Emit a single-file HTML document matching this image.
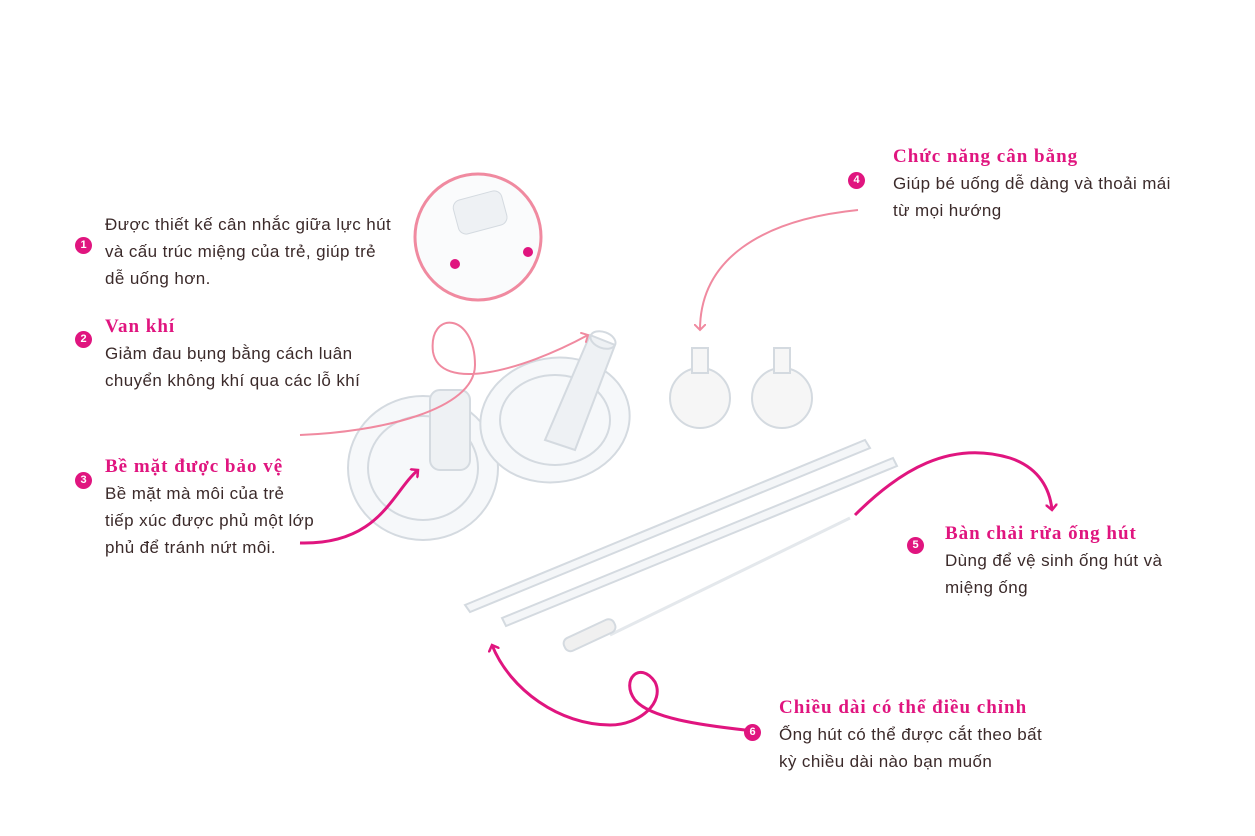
<!DOCTYPE html>
<html><head><meta charset="utf-8"><style>
body{margin:0;width:1255px;height:836px;background:#fff;overflow:hidden;position:relative;font-family:"Liberation Sans","DejaVu Sans",sans-serif;}
.t{position:absolute;color:#3b2a2a;font-size:17px;letter-spacing:0.4px;line-height:27px;white-space:nowrap;}
.h{color:#e0157f;font-weight:bold;font-size:19px;letter-spacing:1px;font-family:"Liberation Serif",serif;line-height:26px;}
.n{position:absolute;width:17px;height:17px;border-radius:50%;background:#e0157f;color:#fff;font-size:11px;font-weight:bold;text-align:center;line-height:17px;letter-spacing:0;}
svg{position:absolute;left:0;top:0;}
</style></head><body>
<svg width="1255" height="836">
<defs>
<marker id="ap" markerWidth="12" markerHeight="12" refX="6" refY="6" orient="auto" markerUnits="userSpaceOnUse"><path d="M0,0 L6,6 L0,12" fill="none" stroke="#f08aa0" stroke-width="2"/></marker>
<marker id="am" markerWidth="12" markerHeight="12" refX="6" refY="6" orient="auto" markerUnits="userSpaceOnUse"><path d="M0,0 L6,6 L0,12" fill="none" stroke="#e0157f" stroke-width="2.5"/></marker>
</defs>
<g fill="none" stroke="#d4dae0" stroke-width="2">
<ellipse cx="423" cy="468" rx="75" ry="72" fill="#f6f8fa"/>
<ellipse cx="423" cy="468" rx="55" ry="52"/>
<ellipse cx="555" cy="420" rx="75" ry="62" fill="#f6f8fa" transform="rotate(-10 555 420)"/>
<ellipse cx="555" cy="420" rx="55" ry="45"/>
<rect x="430" y="390" width="40" height="80" rx="10" fill="#eef1f4"/>
<path d="M545,440 L590,335 L615,345 L575,450 Z" fill="#eef1f4"/>
<ellipse cx="603" cy="340" rx="13" ry="8" transform="rotate(20 603 340)"/>
<path d="M465,605 L865,440 L870,448 L470,612 Z" fill="#f4f6f8"/>
<path d="M502,618 L893,458 L897,466 L506,626 Z" fill="#f4f6f8"/>
<path d="M610,635 L850,518" stroke="#e4e8ec" stroke-width="3"/>
<rect x="562" y="628" width="55" height="14" rx="6" fill="#f0f0f0" transform="rotate(-25 590 635)"/>
<circle cx="700" cy="398" r="30" fill="#f6f6f6"/><rect x="692" y="348" width="16" height="25" fill="#f6f6f6"/>
<circle cx="782" cy="398" r="30" fill="#f6f6f6"/><rect x="774" y="348" width="16" height="25" fill="#f6f6f6"/>
</g>
<circle cx="478" cy="237" r="63" fill="#fafbfc" stroke="#f08aa0" stroke-width="3"/>
<rect x="455" y="195" width="50" height="35" rx="8" fill="#eef1f4" stroke="#d4dae0" transform="rotate(-15 480 212)"/>
<circle cx="528" cy="252" r="5" fill="#e0157f"/><circle cx="455" cy="264" r="5" fill="#e0157f"/>
<path d="M300,435 C380,432 475,410 475,365 C475,312 428,310 433,352 C440,392 520,372 588,335" fill="none" stroke="#f08aa0" stroke-width="2" marker-end="url(#ap)"/>
<path d="M858,210 C760,220 700,260 700,330" fill="none" stroke="#f08aa0" stroke-width="2" marker-end="url(#ap)"/>
<path d="M300,543 C380,545 392,492 418,470" fill="none" stroke="#e0157f" stroke-width="3" marker-end="url(#am)"/>
<path d="M855,515 C900,470 950,440 1010,458 C1040,468 1050,490 1052,510" fill="none" stroke="#e0157f" stroke-width="3" marker-end="url(#am)"/>
<path d="M745,730 C700,725 650,718 635,700 C620,680 640,660 655,682 C665,702 640,725 610,725 C560,725 510,690 492,645" fill="none" stroke="#e0157f" stroke-width="3" marker-end="url(#am)"/>
</svg>
<div class="n" style="left:75px;top:237px">1</div>
<div class="t" style="left:105px;top:211px">Được thiết kế cân nhắc giữa lực hút<br>và cấu trúc miệng của trẻ, giúp trẻ<br>dễ uống hơn.</div>
<div class="n" style="left:75px;top:331px">2</div>
<div class="t" style="left:105px;top:313px"><span class="h">Van khí</span><br>Giảm đau bụng bằng cách luân<br>chuyển không khí qua các lỗ khí</div>
<div class="n" style="left:75px;top:472px">3</div>
<div class="t" style="left:105px;top:453px"><span class="h">Bề mặt được bảo vệ</span><br>Bề mặt mà môi của trẻ<br>tiếp xúc được phủ một lớp<br>phủ để tránh nứt môi.</div>
<div class="n" style="left:848px;top:172px">4</div>
<div class="t" style="left:893px;top:143px"><span class="h">Chức năng cân bằng</span><br>Giúp bé uống dễ dàng và thoải mái<br>từ mọi hướng</div>
<div class="n" style="left:907px;top:537px">5</div>
<div class="t" style="left:945px;top:520px"><span class="h">Bàn chải rửa ống hút</span><br>Dùng để vệ sinh ống hút và<br>miệng ống</div>
<div class="n" style="left:744px;top:724px">6</div>
<div class="t" style="left:779px;top:694px"><span class="h">Chiều dài có thể điều chỉnh</span><br>Ống hút có thể được cắt theo bất<br>kỳ chiều dài nào bạn muốn</div>
</body></html>
